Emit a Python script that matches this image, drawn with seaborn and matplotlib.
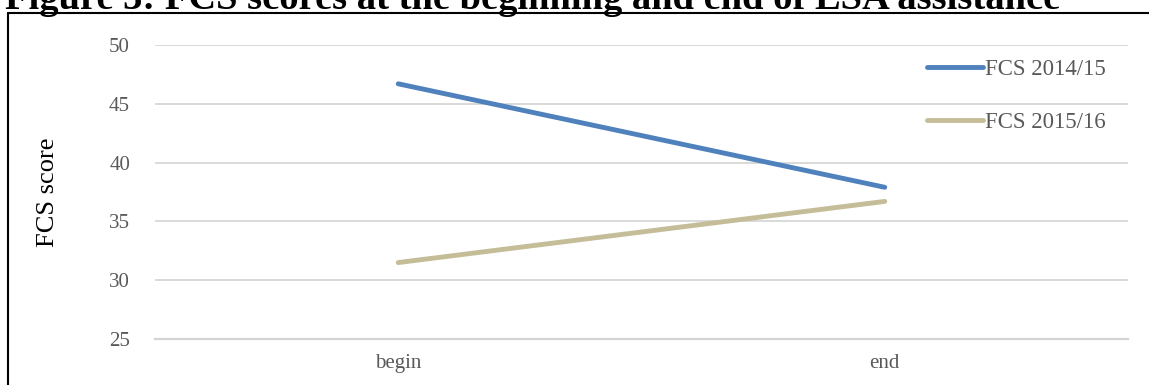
import matplotlib
matplotlib.use("Agg")
import matplotlib.pyplot as plt
from matplotlib.lines import Line2D
import pandas as pd
import seaborn as sns

# Food consumption scores at the two measurement points
stages = ["begin", "end"]
fcs_2014_15 = [46.7, 37.9]
fcs_2015_16 = [31.5, 36.7]
series_names = ["FCS 2014/15", "FCS 2015/16"]
y_ticks = [25, 30, 35, 40, 45, 50]

df = pd.DataFrame({
    "stage": stages * 2,
    "score": fcs_2014_15 + fcs_2015_16,
    "series": [series_names[0]] * 2 + [series_names[1]] * 2,
})

sns.set_theme(style="white")
plt.rcParams["font.family"] = ["Liberation Serif", "DejaVu Serif"]

W, H = 1149, 385
fig = plt.figure(figsize=(W / 100, H / 100), dpi=100)
ax = fig.add_axes([155 / W, 1 - 339 / H, (1128 - 155) / W, (339 - 45) / H])

palette = {series_names[0]: "#4f81bd", series_names[1]: "#c4bd97"}
sns.lineplot(data=df, x="stage", y="score", hue="series", palette=palette,
             sort=False, linewidth=3.5, solid_capstyle="round", ax=ax)

ax.set_xlim(-0.5, 1.5)
ax.set_ylim(25, 50)
ax.set_yticks(y_ticks)
ax.grid(axis="y", color="#d9d9d9", linewidth=1.4)
ax.grid(axis="x", visible=False)
for side in ["top", "left", "right"]:
    ax.spines[side].set_visible(False)
ax.spines["bottom"].set_color("#d4d4d4")
ax.spines["bottom"].set_linewidth(1.6)
ax.tick_params(axis="y", length=0, pad=18, labelsize=15, labelcolor="#595959")
ax.tick_params(axis="x", length=0, pad=11, labelsize=15, labelcolor="#595959")

ax.set_xlabel("")
ax.set_ylabel("FCS score", fontsize=19, color="black")
ax.yaxis.set_label_coords(-0.099, 0.5)

leg = ax.legend(loc="upper left", bbox_to_anchor=((927 - 155) / 973, 1 - (59 - 45) / 294),
                frameon=False, fontsize=16.5, handlelength=2.45, handletextpad=0.1,
                labelspacing=1.4, borderaxespad=0, borderpad=0)
for t in leg.get_texts():
    t.set_color("#595959")
for h in leg.get_lines():
    h.set_linewidth(3.5)
    h.set_solid_capstyle("round")

# Title and frame around the figure
fig.text(5 / W, 1 - 9 / H, "Figure 3: FCS scores at the beginning and end of LSA assistance",
         fontsize=27.7, fontweight="bold", color="black", va="baseline", ha="left")
fig.add_artist(Line2D([8 / W, 8 / W], [1 - 13 / H, 0], transform=fig.transFigure,
                      color="black", linewidth=1.5))
fig.add_artist(Line2D([8 / W, 1], [1 - 13 / H, 1 - 13 / H], transform=fig.transFigure,
                      color="black", linewidth=1.5))

fig.savefig("out.png", dpi=100)
